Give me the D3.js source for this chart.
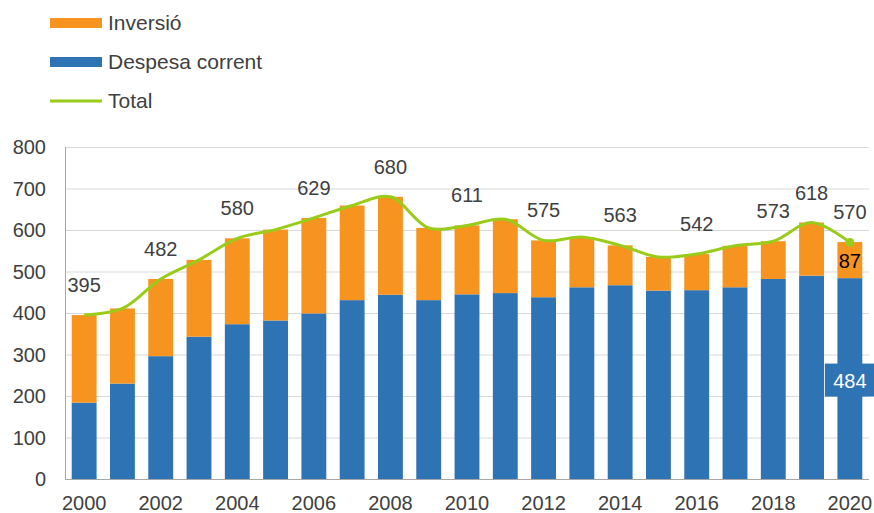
<!DOCTYPE html>
<html>
<head>
<meta charset="utf-8">
<script src="https://cdn.jsdelivr.net/npm/d3@7"></script>
<style>
  body { margin: 0; background: #fff; }
  text { font-family: "Liberation Sans", Arial, sans-serif; }
</style>
</head>
<body>
<div id="chart"></div>
<script>
// dades llegides del gràfic
const years = [2000, 2001, 2002, 2003, 2004, 2005, 2006, 2007, 2008, 2009, 2010,
  2011, 2012, 2013, 2014, 2015, 2016, 2017, 2018, 2019, 2020];
const despesa = [184, 230, 296, 343, 373, 382, 399, 431, 444, 431, 445,
  448, 438, 462, 467, 454, 455, 462, 482, 490, 484];
const inversio = [211, 181, 186, 185, 207, 219, 230, 228, 236, 174, 166,
  178, 137, 121, 96, 81, 87, 100, 91, 128, 87];
const total = [395, 411, 482, 528, 580, 601, 629, 659, 680, 605, 611,
  626, 575, 583, 563, 535, 542, 562, 573, 618, 570];
const labeledYears = [2000, 2002, 2004, 2006, 2008, 2010, 2012, 2014, 2016, 2018, 2019, 2020];
const xTickYears = [2000, 2002, 2004, 2006, 2008, 2010, 2012, 2014, 2016, 2018, 2020];
const yTicks = [0, 100, 200, 300, 400, 500, 600, 700, 800];
const legendItems = [
  { label: "Inversió", type: "rect", color: "#F7941F" },
  { label: "Despesa corrent", type: "rect", color: "#2E74B5" },
  { label: "Total", type: "line", color: "#99CC1A" },
];

const width = 874, height = 513;
const mLeft = 65, mRight = 869, mTop = 147, mBottom = 479;
const orange = "#F7941F", blue = "#2E74B5", green = "#99CC1A", textColor = "#404040";

const svg = d3.select("#chart").append("svg")
  .attr("width", width).attr("height", height);

const x = d3.scaleBand().domain(years).range([mLeft, mRight])
  .paddingInner(0.35).paddingOuter(0.175);
const y = d3.scaleLinear().domain([0, 800]).range([mBottom, mTop]);

// línies de graella
svg.append("g").selectAll("line").data(yTicks.slice(1)).enter().append("line")
  .attr("x1", mLeft).attr("x2", mRight)
  .attr("y1", d => y(d) + 0.5).attr("y2", d => y(d) + 0.5)
  .attr("stroke", "#D9D9D9").attr("stroke-width", 1);

// etiquetes eix Y
svg.append("g").selectAll("text").data(yTicks).enter().append("text")
  .attr("x", 46).attr("y", d => y(d)).attr("dy", "0.35em")
  .attr("text-anchor", "end").attr("font-size", 20).attr("fill", textColor)
  .text(d => d);

// barres
const rows = years.map((yr, i) => ({ year: yr, despesa: despesa[i], inversio: inversio[i], total: total[i] }));
const bars = svg.append("g");
bars.selectAll(".desp").data(rows).enter().append("rect")
  .attr("x", d => x(d.year)).attr("width", x.bandwidth())
  .attr("y", d => y(d.despesa)).attr("height", d => y(0) - y(d.despesa))
  .attr("fill", blue);
bars.selectAll(".inv").data(rows).enter().append("rect")
  .attr("x", d => x(d.year)).attr("width", x.bandwidth())
  .attr("y", d => y(d.despesa + d.inversio))
  .attr("height", d => y(d.despesa) - y(d.despesa + d.inversio))
  .attr("fill", orange);

// eixos
svg.append("line").attr("x1", mLeft + 0.5).attr("x2", mLeft + 0.5)
  .attr("y1", mTop).attr("y2", mBottom).attr("stroke", "#A6A6A6");
svg.append("line").attr("x1", mLeft).attr("x2", mRight)
  .attr("y1", mBottom + 0.5).attr("y2", mBottom + 0.5).attr("stroke", "#A6A6A6");

svg.append("g").selectAll("text").data(xTickYears).enter().append("text")
  .attr("x", d => x(d) + x.bandwidth() / 2).attr("y", 510)
  .attr("text-anchor", "middle").attr("font-size", 20).attr("fill", textColor)
  .text(d => d);

// línia total (suavitzada)
const cx = d => x(d.year) + x.bandwidth() / 2;
const line = d3.line().x(cx).y(d => y(d.total)).curve(d3.curveCatmullRom.alpha(0.5));
svg.append("path").datum(rows).attr("d", line)
  .attr("fill", "none").attr("stroke", green).attr("stroke-width", 3);

const last = rows[rows.length - 1];
svg.append("circle").attr("cx", cx(last)).attr("cy", y(last.total)).attr("r", 4.5)
  .attr("fill", green);

// etiquetes del total
svg.append("g").selectAll("text").data(rows.filter(d => labeledYears.includes(d.year)))
  .enter().append("text")
  .attr("x", cx).attr("y", d => y(d.total) - 30).attr("dy", "0.35em")
  .attr("text-anchor", "middle").attr("font-size", 20).attr("fill", textColor)
  .text(d => d.total);

// etiqueta inversió 2020
svg.append("text").attr("x", cx(last))
  .attr("y", (y(last.despesa) + y(last.despesa + last.inversio)) / 2 + 1).attr("dy", "0.35em")
  .attr("text-anchor", "middle").attr("font-size", 20).attr("fill", "#000")
  .text(last.inversio);

// etiqueta despesa 2020 amb caixa
const dy484 = y(last.despesa / 2) + 2;
svg.append("rect").attr("x", cx(last) - 25).attr("width", 52)
  .attr("y", dy484 - 17).attr("height", 33).attr("fill", blue);
svg.append("text").attr("x", cx(last)).attr("y", dy484).attr("dy", "0.35em")
  .attr("text-anchor", "middle").attr("font-size", 20).attr("fill", "#fff")
  .text(last.despesa);

// llegenda
const legend = svg.append("g");
legendItems.forEach((it, i) => {
  const cy = 23 + i * 39;
  if (it.type === "rect") {
    legend.append("rect").attr("x", 50).attr("y", cy - 5).attr("width", 52).attr("height", 10)
      .attr("fill", it.color);
  } else {
    legend.append("line").attr("x1", 50).attr("x2", 102).attr("y1", cy).attr("y2", cy)
      .attr("stroke", it.color).attr("stroke-width", 3);
  }
  legend.append("text").attr("x", 108).attr("y", cy).attr("dy", "0.35em")
    .attr("font-size", 21).attr("fill", textColor).text(it.label);
});
</script>
</body>
</html>
